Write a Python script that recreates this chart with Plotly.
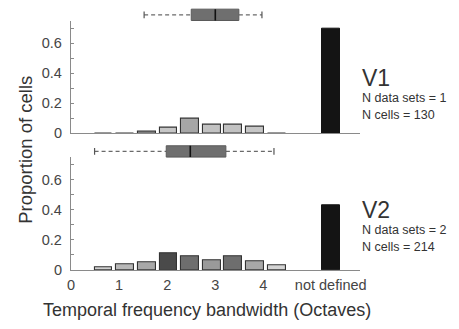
import plotly.graph_objects as go

# ---- data ----
bin_centers = [0.675, 1.125, 1.575, 2.025, 2.475, 2.925, 3.375, 3.825, 4.275]
nd_pos = 5.4
v1_props = [0.0, 0.0, 0.01, 0.04, 0.095, 0.056, 0.056, 0.043, 0.0]
v1_nd = 0.70
v2_props = [0.02, 0.037, 0.052, 0.114, 0.089, 0.067, 0.089, 0.06, 0.028]
v2_nd = 0.43
v1_colors = ["#cccccc", "#cccccc", "#c6c6c6", "#c6c6c6", "#a6a6a6", "#c2c2c2", "#c2c2c2", "#c6c6c6", "#cccccc"]
v2_colors = ["#d0d0d0", "#b8b8b8", "#a8a8a8", "#4a4a4a", "#6e6e6e", "#9a9a9a", "#6e6e6e", "#a8a8a8", "#d4d4d4"]
# box summaries: lower whisker, q1, median, q3, upper whisker
v1_box = [1.52, 2.50, 3.00, 3.49, 3.97]
v2_box = [0.49, 1.98, 2.48, 3.22, 4.22]
x_tickvals = [0, 1, 2, 3, 4, 5.4]
x_ticktext = ["0", "1", "2", "3", "4", "not defined"]
y_tickvals = [0, 0.1, 0.2, 0.3, 0.4, 0.5, 0.6, 0.7]
y_ticktext = ["0", "", "0.2", "", "0.4", "", "0.6", ""]

FONT = "Liberation Sans, Arial, sans-serif"
W, H = 459, 329
def py(px):
    return (H - px) / H

fig = go.Figure()
bw = 0.37
for props, nd, cols, xa, ya in [(v1_props, v1_nd, v1_colors, "x", "y"),
                                (v2_props, v2_nd, v2_colors, "x2", "y2")]:
    fig.add_trace(go.Bar(x=bin_centers, y=props, width=bw, xaxis=xa, yaxis=ya,
                         marker=dict(color=cols, line=dict(color="#333333", width=1.1)),
                         showlegend=False, hoverinfo="skip"))
    fig.add_trace(go.Bar(x=[nd_pos], y=[nd], width=bw, xaxis=xa, yaxis=ya,
                         marker=dict(color="#141414", line=dict(color="#141414", width=1)),
                         showlegend=False, hoverinfo="skip"))

x_dom = [68.5 / W, 363.5 / W]
up_dom = [py(136.7), py(21.2)]
lo_dom = [py(276.7), py(161.2)]

axis_common = dict(showgrid=False, zeroline=False, showline=True, linecolor="#8a8a8a", linewidth=1.3)
tick_font = dict(size=14.5, color="#454545")
fig.update_layout(
    width=W, height=H, margin=dict(l=0, r=0, t=0, b=0),
    paper_bgcolor="white", plot_bgcolor="white",
    font=dict(family=FONT, color="#404040", size=14),
    bargap=0,
    xaxis=dict(domain=x_dom, range=[0, 6], anchor="y", showticklabels=False, ticks="", **axis_common),
    yaxis=dict(domain=up_dom, range=[0, 0.75], anchor="x", tickvals=y_tickvals, ticktext=y_ticktext,
               ticks="inside", ticklen=3, tickcolor="#8a8a8a", ticklabelstandoff=5, tickfont=tick_font,
               **axis_common),
    xaxis2=dict(domain=x_dom, range=[0, 6], anchor="y2", tickvals=x_tickvals, ticktext=x_ticktext,
                ticks="", ticklabelstandoff=1, tickfont=tick_font, **axis_common),
    yaxis2=dict(domain=lo_dom, range=[0, 0.75], anchor="x2", tickvals=y_tickvals, ticktext=y_ticktext,
                ticks="inside", ticklen=3, tickcolor="#8a8a8a", ticklabelstandoff=5, tickfont=tick_font,
                **axis_common),
)

# box plots above each panel
shapes = []
for box, xr, yc in [(v1_box, "x", 15.2), (v2_box, "x2", 155.2)]:
    lo, q1, med, q3, hi = box
    y0, y1 = py(yc + 5.8), py(yc - 5.8)
    ym = py(yc)
    dash = dict(color="#6a6a6a", width=1.2, dash="4px,3px")
    shapes += [
        dict(type="line", xref=xr, yref="paper", x0=lo, x1=q1, y0=ym, y1=ym, line=dash),
        dict(type="line", xref=xr, yref="paper", x0=q3, x1=hi, y0=ym, y1=ym, line=dash),
        dict(type="line", xref=xr, yref="paper", x0=lo, x1=lo, y0=py(yc + 3.5), y1=py(yc - 3.5),
             line=dict(color="#555", width=1.2)),
        dict(type="line", xref=xr, yref="paper", x0=hi, x1=hi, y0=py(yc + 3.5), y1=py(yc - 3.5),
             line=dict(color="#555", width=1.2)),
        dict(type="rect", xref=xr, yref="paper", x0=q1, x1=q3, y0=y0, y1=y1,
             fillcolor="#6f6f6f", line=dict(color="#5a5a5a", width=1)),
        dict(type="line", xref=xr, yref="paper", x0=med, x1=med, y0=y0, y1=y1,
             line=dict(color="#111", width=1.6)),
    ]
fig.update_layout(shapes=shapes)

ann = []
for name, nds, ncells, ytop in [("V1", "N data sets = 1", "N cells = 130", 66),
                                 ("V2", "N data sets = 2", "N cells = 214", 201)]:
    txt = f"<span style='font-size:23px'>{name}</span><br>{nds}<br>{ncells}"
    ann.append(dict(text=txt, x=365 / W, y=py(ytop), xref="paper", yref="paper", xanchor="left",
                    yanchor="top", align="left", showarrow=False, borderpad=0,
                    font=dict(size=12.5, color="#333")))
ann.append(dict(text="Proportion of cells", x=22 / W, y=py(154), xref="paper", yref="paper",
                textangle=-90, showarrow=False, font=dict(size=18.5, color="#333"),
                xanchor="center", yanchor="middle"))
ann.append(dict(text="Temporal frequency bandwidth (Octaves)", x=208 / W, y=py(318), xref="paper",
                yref="paper", showarrow=False, font=dict(size=18, color="#333"),
                xanchor="center", yanchor="middle"))
fig.update_layout(annotations=ann)

fig.write_html("out.html")
